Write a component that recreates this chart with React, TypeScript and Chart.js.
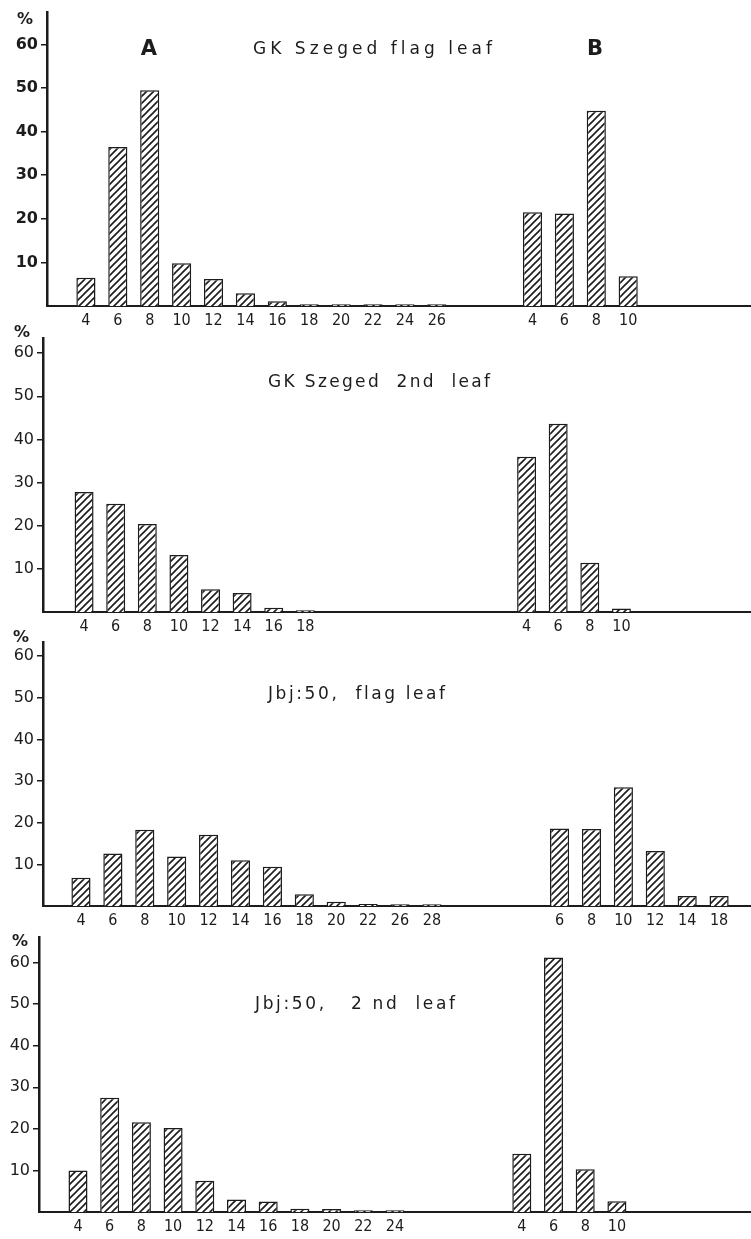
import React, { useEffect, useRef } from 'react';
import { Chart, registerables } from 'chart.js';

Chart.register(...registerables);

const INK = '#1c1c1c';
const TICK_FONT = '"Liberation Sans Narrow", "DejaVu Sans Condensed", "DejaVu Sans", sans-serif';
const TEXT_FONT = '"DejaVu Sans", "Liberation Sans", sans-serif';

// y-axis tick labels (shared by all panels)
const yTickValues = [10, 20, 30, 40, 50, 60];

// Panel 1: GK Szeged flag leaf
const p1ALabels = ['4', '6', '8', '10', '12', '14', '16', '18', '20', '22', '24', '26'];
const p1AValues = [6.5, 36.5, 49.5, 9.8, 6.2, 2.9, 1.1, 0.4, 0.4, 0.4, 0.4, 0.4];
const p1BLabels = ['4', '6', '8', '10'];
const p1BValues = [21.5, 21.2, 44.8, 6.8];

// Panel 2: GK Szeged 2nd leaf
const p2ALabels = ['4', '6', '8', '10', '12', '14', '16', '18'];
const p2AValues = [27.8, 25.1, 20.4, 13.2, 5.3, 4.4, 1.0, 0.4];
const p2BLabels = ['4', '6', '8', '10'];
const p2BValues = [36.0, 43.6, 11.4, 0.8];

// Panel 3: Jbj:50, flag leaf
const p3ALabels = ['4', '6', '8', '10', '12', '14', '16', '18', '20', '22', '26', '28'];
const p3AValues = [6.8, 12.6, 18.3, 11.9, 17.1, 11.0, 9.4, 2.8, 1.0, 0.5, 0.4, 0.4];
const p3BLabels = ['6', '8', '10', '12', '14', '18'];
const p3BValues = [18.6, 18.5, 28.5, 13.2, 2.4, 2.4];

// Panel 4: Jbj:50, 2 nd leaf
const p4ALabels = ['4', '6', '8', '10', '12', '14', '16', '18', '20', '22', '24'];
const p4AValues = [10.0, 27.5, 21.6, 20.2, 7.5, 3.0, 2.5, 0.8, 0.7, 0.4, 0.4];
const p4BLabels = ['4', '6', '8', '10'];
const p4BValues = [14.0, 61.2, 10.3, 2.6];

type Mark = { text: string; x: number; y: number };
type PanelCfg = {
  title: string;
  titleX: number;
  titleY: number;
  titleW: number;
  aLabels: string[];
  aValues: number[];
  bLabels: string[];
  bValues: number[];
  bStart: number;
  top: number;
  height: number;
  padTop: number;
  axisX: number;
  yMax: number;
  xMin: number;
  xMax: number;
  pctX: number;
  pctY: number;
  marks: Mark[];
  yBold: boolean;
};

const X_AXIS_H = 27;

const panels: PanelCfg[] = [
  {
    title: 'GK Szeged flag leaf', titleX: 253, titleY: 50, titleW: 239,
    aLabels: p1ALabels, aValues: p1AValues, bLabels: p1BLabels, bValues: p1BValues,
    bStart: 14, top: 0, height: 333, padTop: 12, axisX: 47, yMax: 67.3,
    xMin: -1.22, xMax: 20.85, pctX: 25, pctY: 20,
    marks: [{ text: 'A', x: 149, y: 50 }, { text: 'B', x: 595, y: 50 }], yBold: true,
  },
  {
    title: 'GK Szeged  2nd  leaf', titleX: 268, titleY: 383, titleW: 222,
    aLabels: p2ALabels, aValues: p2AValues, bLabels: p2BLabels, bValues: p2BValues,
    bStart: 14, top: 312, height: 327, padTop: 26, axisX: 43, yMax: 63.5,
    xMin: -1.3, xMax: 21.1, pctX: 22, pctY: 333, marks: [], yBold: false,
  },
  {
    title: 'Jbj:50,  flag leaf', titleX: 268, titleY: 695, titleW: 177,
    aLabels: p3ALabels, aValues: p3AValues, bLabels: p3BLabels, bValues: p3BValues,
    bStart: 15, top: 620, height: 313, padTop: 22, axisX: 43, yMax: 63.4,
    xMin: -1.19, xMax: 21.0, pctX: 21, pctY: 638, marks: [], yBold: false,
  },
  {
    title: 'Jbj:50,   2 nd  leaf', titleX: 255, titleY: 1005, titleW: 200,
    aLabels: p4ALabels, aValues: p4AValues, bLabels: p4BLabels, bValues: p4BValues,
    bStart: 14, top: 925, height: 314, padTop: 10, axisX: 39, yMax: 66,
    xMin: -1.23, xMax: 21.23, pctX: 20, pctY: 942, marks: [], yBold: false,
  },
];

function makeHatch(ctx: CanvasRenderingContext2D): CanvasPattern | string {
  const s = 7;
  const c = document.createElement('canvas');
  c.width = s;
  c.height = s;
  const g = c.getContext('2d');
  if (!g) return '#fff';
  g.fillStyle = '#ffffff';
  g.fillRect(0, 0, s, s);
  g.strokeStyle = INK;
  g.lineWidth = 1.6;
  g.beginPath();
  g.moveTo(-1, s + 1);
  g.lineTo(s + 1, -1);
  g.moveTo(-1, 1);
  g.lineTo(1, -1);
  g.moveTo(s - 1, s + 1);
  g.lineTo(s + 1, s - 1);
  g.stroke();
  return ctx.createPattern(c, 'repeat') || '#fff';
}

function textPlugin(p: PanelCfg) {
  return {
    id: 'panelText',
    afterDraw(chart: any) {
      const ctx: CanvasRenderingContext2D = chart.ctx;
      ctx.save();
      ctx.fillStyle = INK;
      ctx.textBaseline = 'middle';
      ctx.textAlign = 'center';
      ctx.font = `bold 16px ${TEXT_FONT}`;
      ctx.fillText('%', p.pctX, p.pctY - p.top);

      ctx.font = `17px ${TEXT_FONT}`;
      ctx.textAlign = 'left';
      const w0 = ctx.measureText(p.title).width;
      const n = Array.from(p.title).length;
      const sp = Math.max(0, (p.titleW - w0) / (n - 1));
      (ctx as any).letterSpacing = `${sp}px`;
      ctx.fillText(p.title, p.titleX, p.titleY - p.top);
      (ctx as any).letterSpacing = '0px';

      ctx.textAlign = 'center';
      ctx.font = `bold 21px ${TEXT_FONT}`;
      for (const m of p.marks) ctx.fillText(m.text, m.x, m.y - p.top);
      ctx.restore();
    },
  };
}

function Panel({ p }: { p: PanelCfg }) {
  const ref = useRef<HTMLCanvasElement>(null);
  useEffect(() => {
    const canvas = ref.current;
    if (!canvas) return;
    const ctx = canvas.getContext('2d');
    if (!ctx) return;
    const hatch = makeHatch(ctx);

    const positions: number[] = [];
    const labelMap = new Map<number, string>();
    p.aLabels.forEach((l, i) => { positions.push(i); labelMap.set(i, l); });
    p.bLabels.forEach((l, j) => { positions.push(p.bStart + j); labelMap.set(p.bStart + j, l); });

    const barStyle = {
      backgroundColor: hatch,
      borderColor: INK,
      borderWidth: 1.5,
      borderSkipped: 'start' as const,
    };

    const chart = new Chart(canvas, {
      type: 'bar',
      data: {
        datasets: [
          { label: 'A', data: p.aValues.map((v, i) => ({ x: i, y: v })), ...barStyle },
          { label: 'B', data: p.bValues.map((v, j) => ({ x: p.bStart + j, y: v })), ...barStyle },
        ] as any,
      },
      options: {
        responsive: false,
        animation: false,
        devicePixelRatio: 1,
        layout: { padding: { top: p.padTop, left: 0, right: 0, bottom: 0 } },
        datasets: { bar: { grouped: false, categoryPercentage: 1, barPercentage: 0.6 } } as any,
        plugins: {
          legend: { display: false },
          tooltip: { enabled: false },
          title: { display: false },
        },
        scales: {
          x: {
            type: 'linear',
            offset: false,
            min: p.xMin,
            max: p.xMax,
            grid: { display: false, drawTicks: false, offset: false },
            border: { display: true, color: INK, width: 2 },
            afterBuildTicks: (s: any) => { s.ticks = positions.map((v) => ({ value: v })); },
            afterFit: (s: any) => { s.height = X_AXIS_H; },
            ticks: {
              autoSkip: false,
              maxRotation: 0,
              minRotation: 0,
              padding: 5,
              color: INK,
              font: { family: TICK_FONT, size: 16 },
              callback: (v: any) => labelMap.get(Number(v)) ?? '',
            },
          },
          y: {
            type: 'linear',
            min: 0,
            max: p.yMax,
            afterBuildTicks: (s: any) => { s.ticks = yTickValues.map((v) => ({ value: v })); },
            afterFit: (s: any) => { s.width = p.axisX; },
            grid: { display: true, drawOnChartArea: false, drawTicks: true, tickLength: 6, color: INK, lineWidth: 1.5 },
            border: { display: true, color: INK, width: 2.5 },
            ticks: {
              padding: 3,
              color: INK,
              font: { family: TEXT_FONT, size: 16, weight: p.yBold ? 'bold' : 'normal' },
              callback: (v: any) => String(v),
            },
          },
        },
      } as any,
      plugins: [textPlugin(p)],
    });
    return () => chart.destroy();
  }, [p]);

  return (
    <canvas
      ref={ref}
      width={751}
      height={p.height}
      style={{ position: 'absolute', left: 0, top: p.top, width: 751, height: p.height }}
    />
  );
}

export default function App() {
  return (
    <div
      style={{
        position: 'absolute',
        left: 0,
        top: 0,
        width: 751,
        height: 1239,
        overflow: 'hidden',
        background: '#ffffff',
      }}
    >
      {panels.map((p, i) => (
        <Panel key={i} p={p} />
      ))}
    </div>
  );
}
